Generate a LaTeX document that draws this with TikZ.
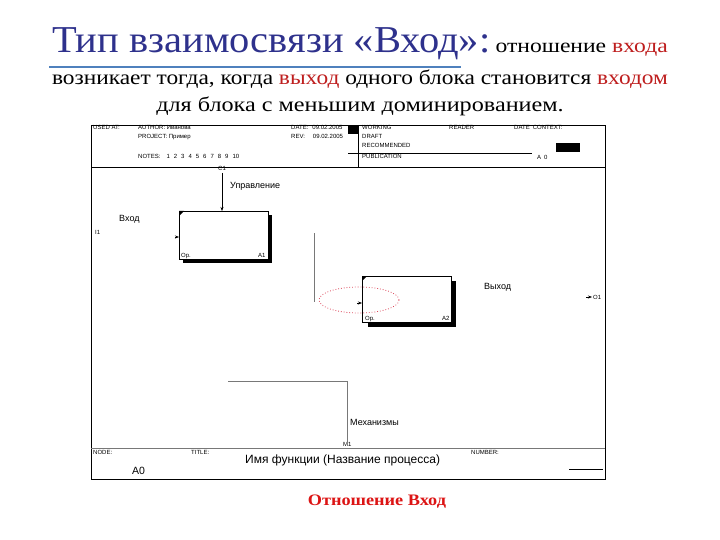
\documentclass[tikz,border=0pt]{standalone}
\usepackage{fontspec}
\setmainfont{Liberation Serif}
\setsansfont{Liberation Sans}
\usetikzlibrary{arrows.meta,shapes.geometric}
\definecolor{navy}{RGB}{46,49,140}
\definecolor{dred}{RGB}{190,30,30}
\definecolor{capred}{RGB}{220,20,20}
\definecolor{ulblue}{RGB}{79,129,189}
\definecolor{gl}{RGB}{120,120,120}
\definecolor{pinkred}{RGB}{220,70,90}
\begin{document}
\begin{tikzpicture}[x=1pt,y=-1pt,
  hdr/.style={font=\sffamily\fontsize{6}{6}\selectfont, anchor=base west, inner sep=0},
  lbl/.style={font=\sffamily\fontsize{9}{9}\selectfont, anchor=base west, inner sep=0},
  boxA/.style={draw, line width=0.8pt, minimum width=89pt, minimum height=48pt, inner sep=0, anchor=north west},
  boxB/.style={draw, line width=0.8pt, minimum width=89pt, minimum height=46pt, inner sep=0, anchor=north west},
  arr/.style={-{Stealth[length=4pt,width=3pt]}, line width=0.5pt},
  frame/.style={line width=0.8pt},
  conn/.style={draw=gl, line width=0.7pt}]
\useasboundingbox (0,0) rectangle (720,540);

% ---- heading text ----
\node[anchor=base west, inner sep=0, font=\rmfamily\fontsize{38}{38}\selectfont, text=navy, xscale=1.065] (title) at (52,53) {Тип взаимосвязи «Вход»:};
\node[anchor=base east, inner sep=0, font=\rmfamily\fontsize{20}{20}\selectfont, xscale=1.18] (title2) at (668,53) {отношение \textcolor{dred}{входа}};
\draw[ulblue, line width=1.5pt] (49,67) -- (461,67);
\node[anchor=base, inner sep=0, font=\rmfamily\fontsize{20.5}{20.5}\selectfont, xscale=1.14] (line2) at (360,85) {возникает тогда, когда \textcolor{dred}{выход} одного блока становится \textcolor{dred}{входом}};
\node[anchor=base, inner sep=0, font=\rmfamily\fontsize{20.5}{20.5}\selectfont, xscale=1.18] (line3) at (360,112) {для блока с меньшим доминированием.};

% ---- frame ----
\draw[frame] (91,125) rectangle (605,479);
\draw[frame] (91,167) -- (605,167);
\draw[frame] (358,125) -- (358,167);
\fill (348,125) rectangle (358,134);
\draw[line width=0.6pt] (348,153) -- (532,153);
\fill (556,143) rectangle (580,152);
\draw[gl, line width=0.7pt] (91,448) -- (605,448);
\draw[line width=0.6pt] (569,469) -- (603,469);

% header texts
\node[hdr] (usedat) at (93,130) {USED AT:};
\node[hdr] (author) at (138,130) {AUTHOR: Иванова};
\node[hdr] (project) at (138,139) {PROJECT: Пример};
\node[hdr] (notes) at (138,159) {NOTES:\hspace{6pt}1\hspace{4pt}2\hspace{4pt}3\hspace{4pt}4\hspace{4pt}5\hspace{4pt}6\hspace{4pt}7\hspace{4pt}8\hspace{4pt}9\hspace{4pt}10};
\node[hdr] (date) at (291,130) {DATE:\hspace{4pt}09.02.2005};
\node[hdr] (rev) at (291,139) {REV:\hspace{8pt}09.02.2005};
\node[hdr] (working) at (362,130) {WORKING};
\node[hdr] (draft) at (362,139) {DRAFT};
\node[hdr] (recom) at (362,148) {RECOMMENDED};
\node[hdr] (publ) at (362,159) {PUBLICATION};
\node[hdr] (reader) at (449,130) {READER};
\node[hdr] (date2) at (514,130) {DATE\hspace{3pt}CONTEXT:};
\node[hdr] (ctx) at (537,160) {A\hspace{3pt}0};

% footer texts
\node[hdr] (node) at (93,454) {NODE:};
\node[anchor=base west, inner sep=0, font=\sffamily\fontsize{10.5}{10.5}\selectfont] (nodeA0) at (132,474) {A0};
\node[hdr] (titlelbl) at (191,454) {TITLE:};
\node[anchor=base west, inner sep=0, font=\sffamily\fontsize{12}{12}\selectfont] (fname) at (245,463) {Имя функции (Название процесса)};
\node[hdr] (number) at (471,454) {NUMBER:};

% ---- blocks ----
\fill (268,215) rectangle (272,263);
\fill (183,259) rectangle (272,263);
\node[boxA, fill=white] (a1) at (179,211) {};
\fill (179,211) -- (184,211) -- (179,216) -- cycle;
\node[hdr] (a1op) at (181,257) {Ор.};
\node[hdr] (a1n) at (258,257) {A1};

\fill (451,281) rectangle (456,327);
\fill (368,322) rectangle (456,327);
\node[boxB, fill=white] (a2) at (362,276) {};
\fill (362,276) -- (367,276) -- (362,281) -- cycle;
\node[hdr] (a2op) at (365,320) {Ор.};
\node[hdr] (a2n) at (442,320) {A2};

% ---- arrows ----
\coordinate (c1) at (222,173);
\node[hdr] (c1l) at (218,171) {C1};
\draw[arr] (c1) -- (c1 |- a1.north);
\node[lbl] (upr) at (230,189) {Управление};

\node[lbl] (vhod) at (119,222) {Вход};
\node[hdr] (i1) at (95,235) {I1};
\coordinate (i1a) at (175,237);
\draw[arr] (i1a) -- (i1a -| a1.west);

\coordinate (g1) at (314,233);
\coordinate (g2) at (314,302);
\draw[conn] (g1) -- (g2);
\coordinate (i2a) at (357,303);
\draw[arr] (i2a) -- (i2a -| a2.west);
\node[draw=pinkred, dotted, line width=0.8pt, ellipse, minimum width=80pt, minimum height=26pt, inner sep=0] (ell) at (359,300) {};

\node[lbl] (vyhod) at (484,289) {Выход};
\coordinate (o1a) at (586,297);
\coordinate (o1b) at (592,297);
\draw[arr] (o1a) -- (o1b);
\node[hdr, anchor=west] (o1) at (593,297) {O1};

\coordinate (m0) at (228,381);
\coordinate (m1) at (347,381);
\coordinate (m2) at (347,442);
\draw[conn] (m0) -- (m1) -- (m2);
\node[lbl] (mech) at (350,425) {Механизмы};
\node[hdr] (m1l) at (343,446) {M1};

% ---- caption ----
\node[anchor=base, inner sep=0, font=\rmfamily\bfseries\fontsize{16}{16}\selectfont, text=capred, xscale=1.14] (caption) at (377,505) {Отношение Вход};
\end{tikzpicture}
\end{document}
